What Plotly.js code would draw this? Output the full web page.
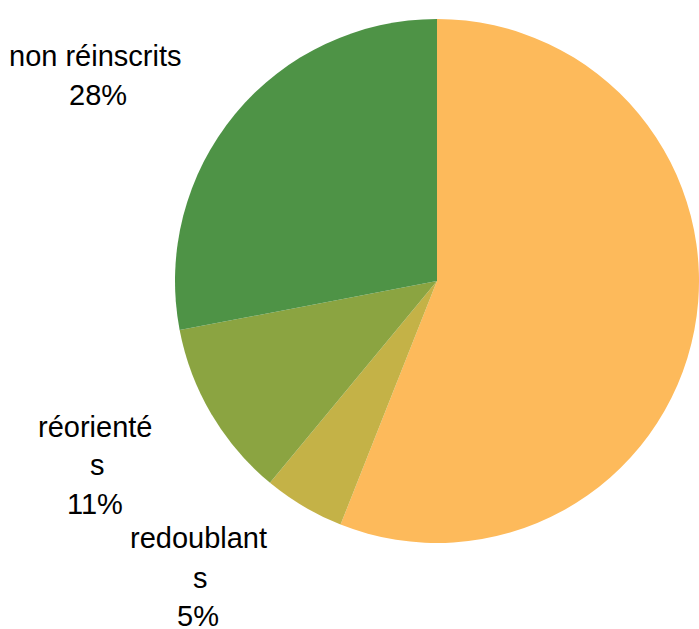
<!DOCTYPE html>
<html>
<head>
<meta charset="utf-8">
<script src="https://cdn.plot.ly/plotly-3.0.1.min.js"></script>
<style>html,body{margin:0;padding:0;background:#fff}#chart{width:699px;height:629px}</style>
</head>
<body>
<div id="chart"></div>
<script>
const categories = ["réinscrits", "redoublants", "réorientés", "non réinscrits"];
const values = [56, 5, 11, 28];
const colors = ["#FDBA5B", "#C4B247", "#8BA441", "#4E9346"];
// label lines as displayed (wrapped words) with their pixel positions
const labelLines = [
  {t: "non réinscrits", x: 95, y: 66},
  {t: "28%", x: 98, y: 105},
  {t: "réorienté", x: 95, y: 437},
  {t: "s", x: 97, y: 475},
  {t: "11%", x: 95, y: 514},
  {t: "redoublant", x: 198, y: 548},
  {t: "s", x: 200, y: 588},
  {t: "5%", x: 198, y: 626}
];
const W = 699, H = 629;
const cx = 437, cy = 281, r = 262;
const annotations = labelLines.map(l => ({
  text: l.t, showarrow: false, xref: "paper", yref: "paper",
  x: l.x / W, y: 1 - (l.y - 10) / H, xanchor: "center", yanchor: "middle",
  font: {family: "Liberation Sans, Arial, sans-serif", size: 29, color: "#000"}
}));
Plotly.newPlot("chart", [{
  type: "pie",
  labels: categories,
  values: values,
  sort: false,
  direction: "clockwise",
  rotation: 0,
  marker: {colors: colors, line: {width: 0}},
  textinfo: "none",
  hoverinfo: "none",
  domain: {x: [(cx - r) / W, (cx + r) / W], y: [1 - (cy + r) / H, 1 - (cy - r) / H]}
}], {
  width: W, height: H,
  margin: {l: 0, r: 0, t: 0, b: 0},
  showlegend: false,
  paper_bgcolor: "#fff",
  annotations: annotations
}, {displayModeBar: false, staticPlot: true});
</script>
</body>
</html>
